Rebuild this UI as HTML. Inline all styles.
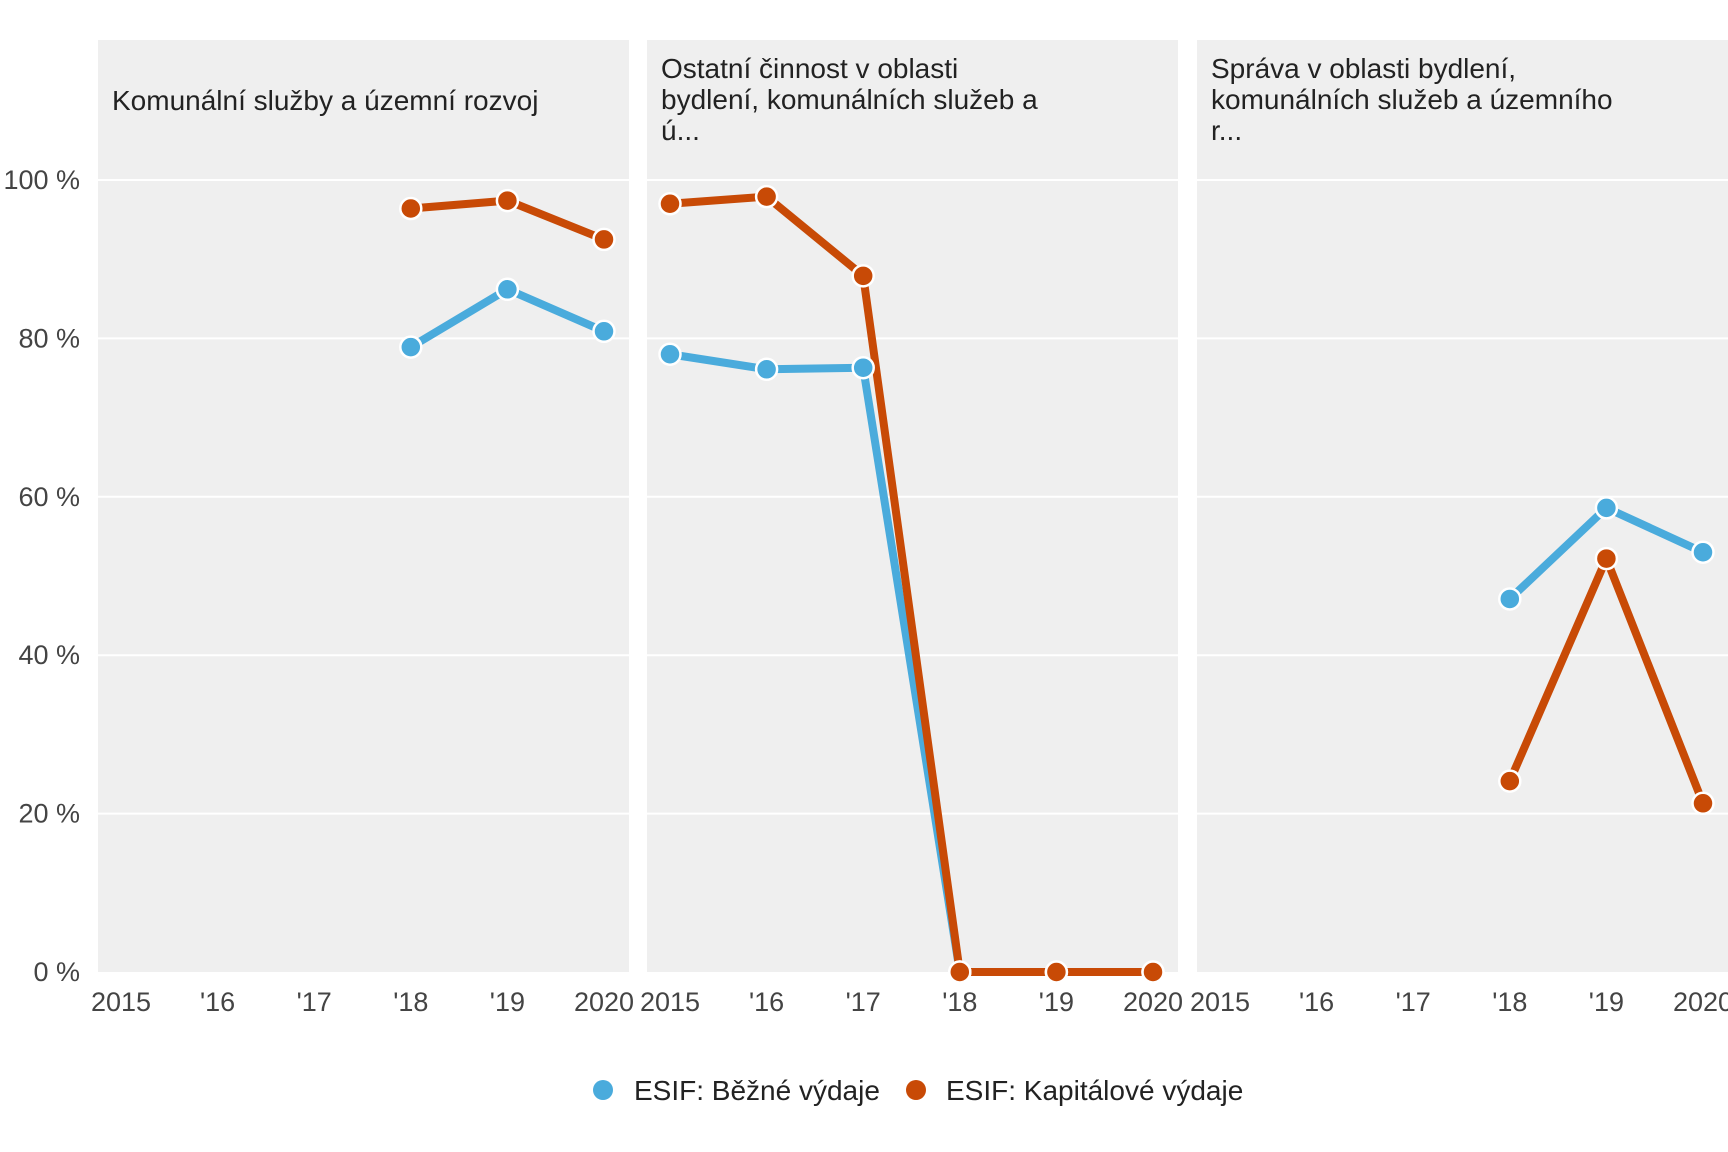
<!DOCTYPE html>
<html><head><meta charset="utf-8"><style>
body{margin:0;background:#fff}
svg{display:block;font-family:"Liberation Sans",sans-serif}
</style></head><body>
<svg id="c" width="1728" height="1152"></svg>
<script>
const years=[2015,2016,2017,2018,2019,2020];
const xTickLabels=["2015","'16","'17","'18","'19","2020"];
const yTicks=[0,20,40,60,80,100];
const titles=[["Komunální služby a územní rozvoj"],["Ostatní činnost v oblasti","bydlení, komunálních služeb a","ú..."],["Správa v oblasti bydlení,","komunálních služeb a územního","r..."]];
const bezne1=[null,null,null,78.9,86.2,80.9];
const kap1=[null,null,null,96.4,97.4,92.5];
const bezne2=[78,76.1,76.3,0,0,0];
const kap2=[97,97.9,87.9,0,0,0];
const bezne3=[null,null,null,47.1,58.6,53];
const kap3=[null,null,null,24.1,52.2,21.3];
const series=[[bezne1,kap1],[bezne2,kap2],[bezne3,kap3]];
const colors=["#4aabdc","#c84a06"];
const NS="http://www.w3.org/2000/svg";
const svg=document.getElementById('c');
function el(t,a,p){const e=document.createElementNS(NS,t);for(const k in a)e.setAttribute(k,a[k]);(p||svg).appendChild(e);return e;}
const panelX=[98,647,1197],pw=531,panelTop=40,panelBot=972;
const yPos=v=>972-v*7.92;
const xPos=(p,i)=>panelX[p]+23+(years[i]-2015)*96.6;
yTicks.forEach(t=>{const e=el('text',{x:80,y:yPos(t)+9,'text-anchor':'end','font-size':27,fill:'#444'});

e.textContent=t+' %';});
for(let p=0;p<3;p++){
 const g=el('g',{});
 
 
 el('rect',{x:panelX[p],y:panelTop,width:pw,height:panelBot-panelTop,fill:'#efefef'},g);
 yTicks.forEach(t=>{if(t>0)el('line',{x1:panelX[p],x2:panelX[p]+pw,y1:yPos(t),y2:yPos(t),stroke:'#fff','stroke-width':2},g);});
 titles[p].forEach((l,i)=>{const e=el('text',{x:panelX[p]+14,y:(titles[p].length==1?110:78+i*31),'font-size':28,fill:'#222'},g);
 
 e.textContent=l;});
 xTickLabels.forEach((l,i)=>{const e=el('text',{x:xPos(p,i),y:1011,'text-anchor':'middle','font-size':27,fill:'#444'},g);
 
 e.textContent=l;});
 series[p].forEach((s,si)=>{
  let pts=[];s.forEach((v,i)=>{if(v!==null)pts.push([xPos(p,i),yPos(v)]);});
  const pl=el('polyline',{points:pts.map(q=>q.join(',')).join(' '),fill:'none',stroke:colors[si],'stroke-width':8,'stroke-linejoin':'round'},g);
  
  
 });
 series[p].forEach((s,si)=>{
  s.forEach((v,i)=>{if(v===null)return;
   const c=el('circle',{cx:xPos(p,i),cy:yPos(v),r:10.5,fill:colors[si],stroke:'#fff','stroke-width':2.5},g);
   
   });
 });
}
const leg=[["ESIF: Běžné výdaje",603,634],["ESIF: Kapitálové výdaje",916,946]];
leg.forEach((l,i)=>{
 const c=el('circle',{cx:l[1],cy:1090,r:10,fill:colors[i]});
 
 
 const t=el('text',{x:l[2],y:1100,'font-size':28,fill:'#222'});
 
 t.textContent=l[0];
});
</script>
</body></html>
